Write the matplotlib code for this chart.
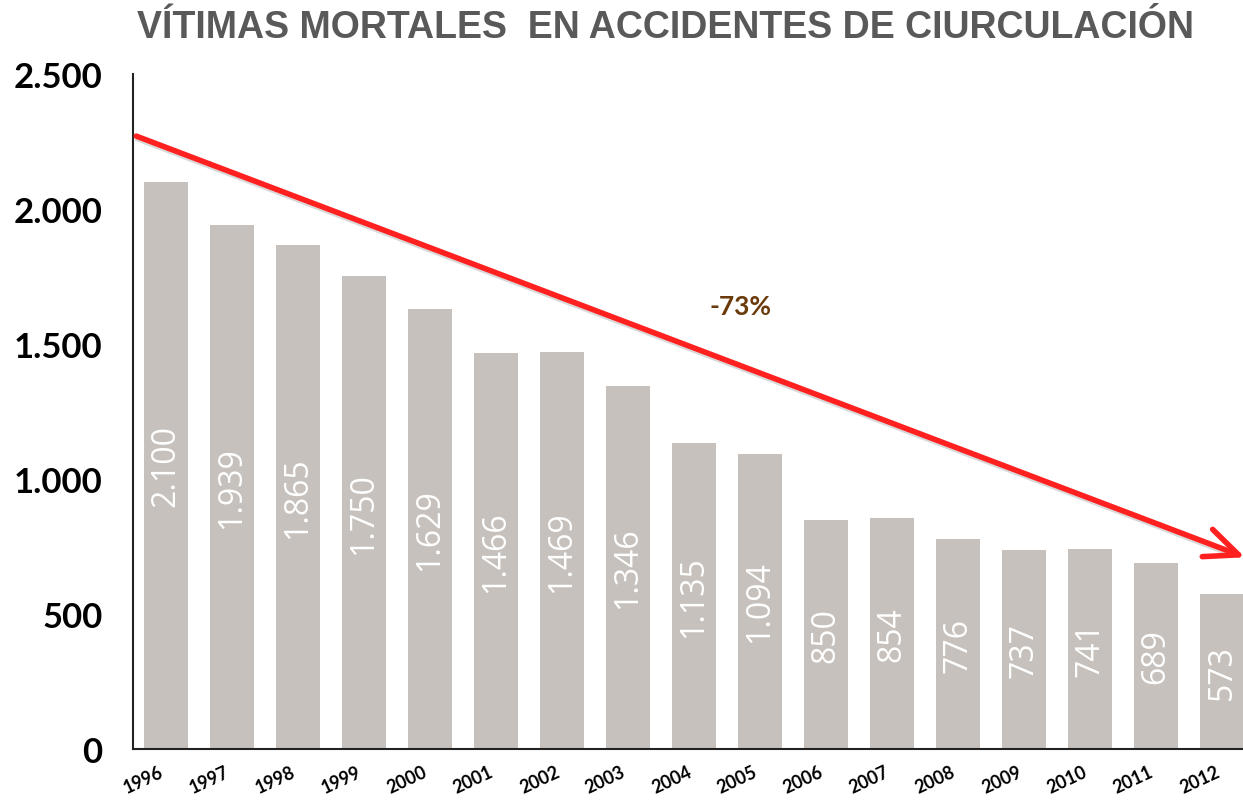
import matplotlib
matplotlib.use('Agg')
import matplotlib.pyplot as plt
import matplotlib.transforms as mtransforms

years = ['1996', '1997', '1998', '1999', '2000', '2001', '2002', '2003', '2004',
         '2005', '2006', '2007', '2008', '2009', '2010', '2011', '2012']
victims = [2100, 1939, 1865, 1750, 1629, 1466, 1469, 1346, 1135,
           1094, 850, 854, 776, 737, 741, 689, 573]
labels = [f'{v:,}'.replace(',', '.') for v in victims]
yticks = [0, 500, 1000, 1500, 2000, 2500]
ytick_labels = ['0', '500', '1.000', '1.500', '2.000', '2.500']

W, H = 1243, 803
fig = plt.figure(figsize=(W / 100, H / 100), dpi=100)
# axes spans from spine at x=133 to beyond the right edge (last bar clipped)
ax = fig.add_axes([133 / W, 1 - 750 / H, (1255 - 133) / W, (750 - 75) / H])

x = list(range(len(years)))
bars = ax.bar(x, victims, width=0.68, color='#C6C1BC', zorder=2)
ax.bar_label(bars, labels=labels, label_type='center', rotation=90,
             color='white', fontsize=23, family='Open Sans', fontweight='normal')

ax.set_xlim(-0.5, 16.5)
ax.set_ylim(0, 2500)
ax.set_yticks(yticks)
ax.set_yticklabels(ytick_labels, fontsize=25, fontweight='bold', family='Lato')
ax.set_xticks(x)
ax.set_xticklabels(years, rotation=25, fontsize=13, fontweight='bold',
                   family='Lato', ha='right')
ax.tick_params(length=0, pad=10)
ax.tick_params(axis='y', pad=22)
for s in ['top', 'right']:
    ax.spines[s].set_visible(False)
for s in ['left', 'bottom']:
    ax.spines[s].set_color('#222222')
    ax.spines[s].set_linewidth(1.5)

# trend arrow with a soft shadow
start, end = (-0.45, 2270), (16.35, 710)
shadow = mtransforms.offset_copy(ax.transData, fig=fig, x=2, y=-3, units='dots')
ax.plot([start[0], end[0] - 0.3], [start[1], end[1] + 28], color='black',
        alpha=0.15, lw=4, transform=shadow, clip_on=False, zorder=4)
ax.annotate('', xy=end, xytext=start,
            arrowprops=dict(arrowstyle='->,head_length=0.8,head_width=0.35',
                            color='#FF2020', lw=4, mutation_scale=30,
                            shrinkA=0, shrinkB=0),
            annotation_clip=False, zorder=5)
ax.text(8.7, 1640, '-73%', color='#6B3A0A', fontsize=19, fontweight='bold',
        family='Lato', ha='center', va='center')

fig.text(665 / W, 1 - 28 / H, 'VÍTIMAS MORTALES  EN ACCIDENTES DE CIURCULACIÓN',
         ha='center', va='center', fontsize=27, fontweight='bold',
         family='Liberation Sans', color='#595959')

fig.savefig('out.png', dpi=100)
